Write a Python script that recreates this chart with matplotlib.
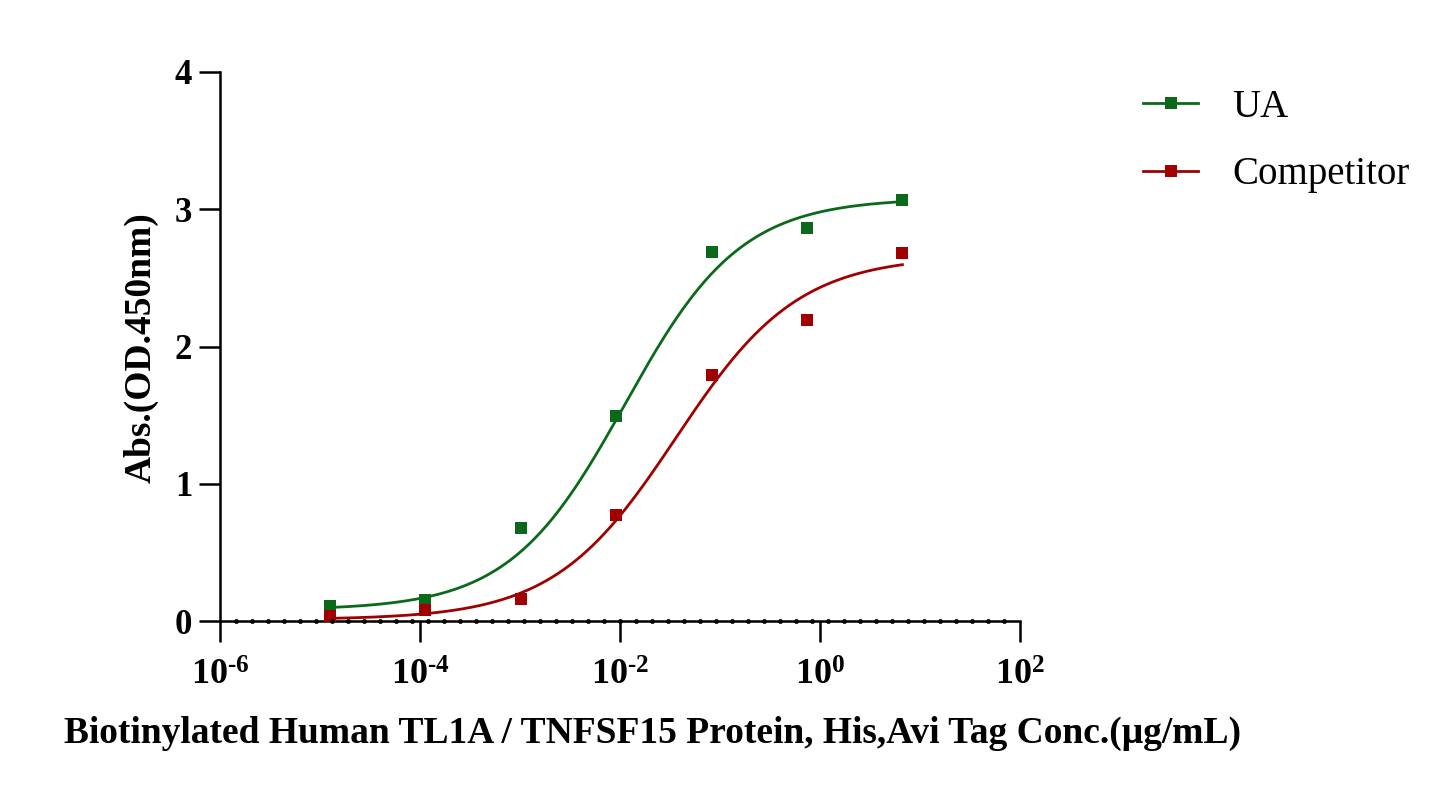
import numpy as np
import matplotlib
matplotlib.use('Agg')
import matplotlib.pyplot as plt
from matplotlib.lines import Line2D

# Data (conc. in ug/mL, 9-fold dilution)
conc = [1.25e-5, 1.13e-4, 1.016e-3, 9.14e-3, 8.23e-2, 0.741, 6.67]
ua_abs = [0.11, 0.15, 0.68, 1.49, 2.69, 2.86, 3.07]
comp_abs = [0.04, 0.08, 0.16, 0.77, 1.79, 2.19, 2.68]

# 4PL fit parameters (bottom, top, logEC50, hill)
ua_fit = (0.08, 3.08, -1.95, 0.75)
comp_fit = (0.01, 2.66, -1.44, 0.71)

series_names = ['UA', 'Competitor']
series_colors = ['#0a6a1a', '#a00000']

x_ticks = [1e-6, 1e-4, 1e-2, 1e0, 1e2]
x_tick_labels = ['\u2010' + '6', '\u2010' + '4', '\u2010' + '2', '0', '2']
y_ticks = [0, 1, 2, 3, 4]

plt.rcParams['font.family'] = ['Liberation Serif', 'DejaVu Serif']
plt.rcParams['mathtext.fontset'] = 'custom'
plt.rcParams['mathtext.rm'] = 'Liberation Serif:bold'
plt.rcParams['mathtext.bf'] = 'Liberation Serif:bold'


def four_pl(logx, p):
    bottom, top, logec50, hill = p
    return bottom + (top - bottom) / (1 + 10 ** ((logec50 - logx) * hill))


fig = plt.figure(figsize=(14.45, 7.9), dpi=100)
ax = fig.add_axes([220 / 1445, 169 / 790, 800 / 1445, 549 / 790])

ax.set_xscale('log')
ax.set_xlim(1e-6, 1e2)
ax.set_ylim(0, 4)

# Fitted curves and points
logx = np.linspace(np.log10(conc[0]), np.log10(conc[-1]), 300)
for ys, p, color in zip([ua_abs, comp_abs], [ua_fit, comp_fit], series_colors):
    ax.plot(10 ** logx, four_pl(logx, p), color=color, lw=2, clip_on=False, zorder=3)
    ax.plot(conc, ys, 's', color=color, ms=8, mew=0, clip_on=False, zorder=4)

# Dotted minor marks along the x axis (50 equal steps across the axis)
dots = np.logspace(-6, 2, 51)[1:-1]
ax.plot(dots, np.zeros_like(dots), 'o', color='black', ms=3.5, mew=0,
        clip_on=False, zorder=5)

for side in ['top', 'right']:
    ax.spines[side].set_visible(False)
for side in ['left', 'bottom']:
    ax.spines[side].set_linewidth(1.8)

ax.set_xticks(x_ticks)
ax.set_xticklabels([r'$\mathbf{10^{%s}}$' % t for t in x_tick_labels])
ax.xaxis.set_minor_locator(matplotlib.ticker.NullLocator())
ax.set_yticks(y_ticks)
ax.set_yticklabels([str(t) for t in y_ticks], fontweight='bold')
ax.tick_params(axis='both', direction='out', length=15, width=1.8)
ax.tick_params(axis='x', labelsize=26, pad=13)
ax.tick_params(axis='y', labelsize=25, pad=5)

fig.text(141 / 1445, 1 - 348 / 790, 'Abs.(OD.450nm)', fontsize=27,
         fontweight='bold', rotation=90, ha='center', va='center')
fig.text(653 / 1445, 1 - 733 / 790,
         'Biotinylated Human TL1A / TNFSF15 Protein, His,Avi Tag Conc.(\u03bcg/mL)',
         fontsize=27, fontweight='bold', ha='center', va='center')

handles = [Line2D([], [], color=c, lw=2, marker='s', ms=8, mew=0) for c in series_colors]
fig.legend(handles, series_names, loc='upper left',
           bbox_to_anchor=(1143 / 1445, 1 - 89 / 790), frameon=False,
           fontsize=28, handlelength=1.42, labelspacing=0.78, handletextpad=0.87,
           borderpad=0, borderaxespad=0)

fig.savefig('out.png', dpi=100)
